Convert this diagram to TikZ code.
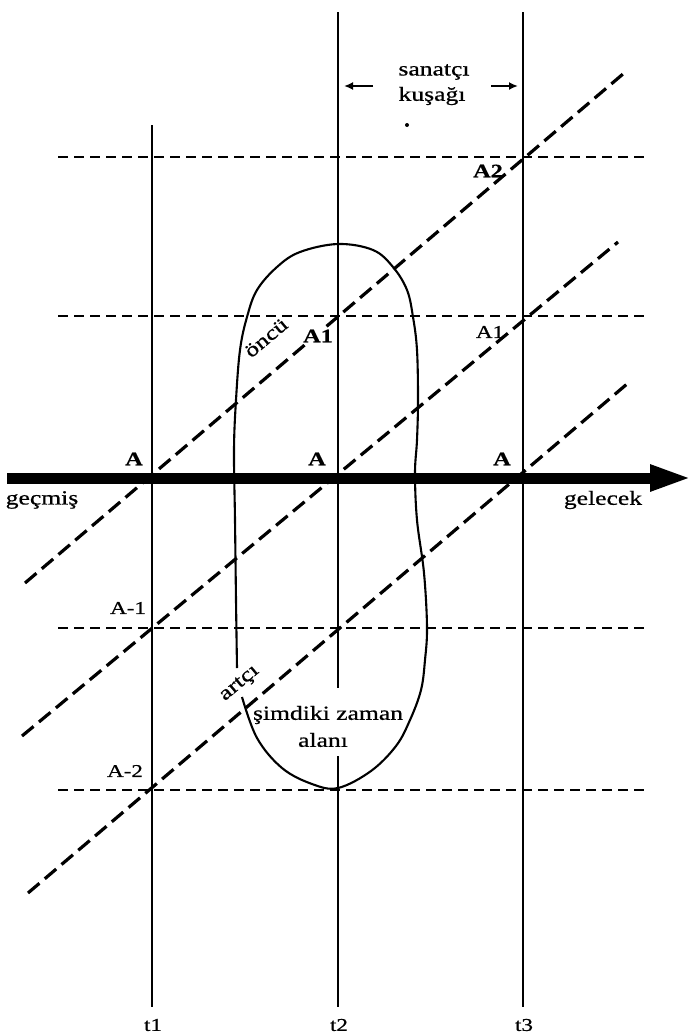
\documentclass[tikz,border=0pt]{standalone}
\usepackage{fontspec}
\setmainfont[FakeStretch=1.28]{Liberation Serif}
\newfontfamily\labfont[FakeStretch=1.28,FakeBold=0.7]{Liberation Serif}
\usetikzlibrary{arrows.meta}
\begin{document}
\begin{tikzpicture}[x=1pt,y=-1pt,
  vline/.style={line width=1.6pt},
  hdash/.style={line width=1.9pt, dash pattern=on 10pt off 6pt},
  ddash/.style={line width=3.2pt, dash pattern=on 15pt off 7pt},
  blobline/.style={line width=2.1pt},
  lab/.style={font=\labfont\fontsize{20}{22}\selectfont, inner sep=0pt},
  alab/.style={font=\labfont\fontsize{19}{21}\selectfont\bfseries, inner sep=0pt},
  alabr/.style={font=\labfont\fontsize{18}{20}\selectfont, inner sep=0pt},
  smallarrow/.style={line width=2pt, -{Latex[length=9pt,width=8pt]}}]
\useasboundingbox (0,0) rectangle (692,1036);

% vertical time lines
\coordinate (t1top) at (152,125);
\coordinate (t1bot) at (152,1007);
\coordinate (t2top) at (338,12);
\coordinate (t2gapA) at (338,688);
\coordinate (t2gapB) at (338,756);
\coordinate (t2bot) at (338,1007);
\coordinate (t3top) at (523,12);
\coordinate (t3bot) at (523,1007);
\draw[vline] (t1top) -- (t1bot);
\draw[vline] (t2top) -- (t2gapA);
\draw[vline] (t2gapB) -- (t2bot);
\draw[vline] (t3top) -- (t3bot);

% horizontal dashed lines
\foreach \y/\n in {157/a,316/b,628/c,790/d}{
  \coordinate (h\n L) at (58,\y);
  \coordinate (h\n R) at (645,\y);
  \draw[hdash] (h\n L) -- (h\n R);
}

% diagonal dashed lines
\coordinate (d1a) at (25,583);  \coordinate (d1b) at (623,74);
\coordinate (d2a) at (22,736);  \coordinate (d2b) at (618,242);
\coordinate (d3a) at (28,893);  \coordinate (d3b) at (627,384);
\draw[ddash] (d1a) -- (d1b);
\draw[ddash] (d2a) -- (d2b);
\draw[ddash] (d3a) -- (d3b);

% main time arrow
\coordinate (arrS) at (7,478);
\coordinate (arrE) at (692,478);
\draw[line width=11pt, -{Triangle[length=42pt,width=24pt]}] (arrS) -- (arrE);

% present-time region
\draw[blobline] plot[smooth, tension=0.6] coordinates {
 (237,668) (236,600) (235,520) (234,450) (236,400) (240,350) (247,317)
 (257,290) (277,267) (300,252) (338,244) (373,250) (393,267) (407,290)
 (413,317) (417,350) (418,400) (417,440) (415,473) (417,520) (424,573)
 (427,627) (425,660) (421,690) (410,720) (396,746) (371,771) (338,788)
 (312,784) (282,768) (257,738) (242,697)};

% artist generation band
\node[lab] (sanat) at (434,72) {sanatçı};
\node[lab] (kusak) at (432,96) {kuşağı};
\coordinate (la1) at (373,86); \coordinate (la2) at (344,86);
\coordinate (ra1) at (491,86); \coordinate (ra2) at (518,86);
\draw[smallarrow] (la1) -- (la2);
\draw[smallarrow] (ra1) -- (ra2);
\fill (407,125) circle (2pt);

% labels
\node[alab] (A2) at (488,171) {A2};
\node[alabr] (A1r) at (490,332) {A1};
\node[alab, fill=white, inner sep=1.5pt] (A1m) at (318,336) {A1};
\node[lab, rotate=40] (oncu) at (266,338) {öncü};
\node[alab] (Aa) at (134,459) {A};
\node[alab] (Ab) at (317,459) {A};
\node[alab] (Ac) at (502,459) {A};
\node[alabr] (Am1) at (128,608) {A-1};
\node[alabr] (Am2) at (125,771) {A-2};
\node[lab] (gecmis) at (42,500) {geçmiş};
\node[lab] (gelecek) at (603,500) {gelecek};
\node[lab, rotate=40] (artci) at (240,684) {artçı};
\node[lab] (simdi) at (328,715) {şimdiki zaman};
\node[lab] (alani) at (323,740) {alanı};
\node[alabr] (t1) at (153,1025) {t1};
\node[alabr] (t2) at (339,1025) {t2};
\node[alabr] (t3) at (524,1025) {t3};
\end{tikzpicture}
\end{document}
